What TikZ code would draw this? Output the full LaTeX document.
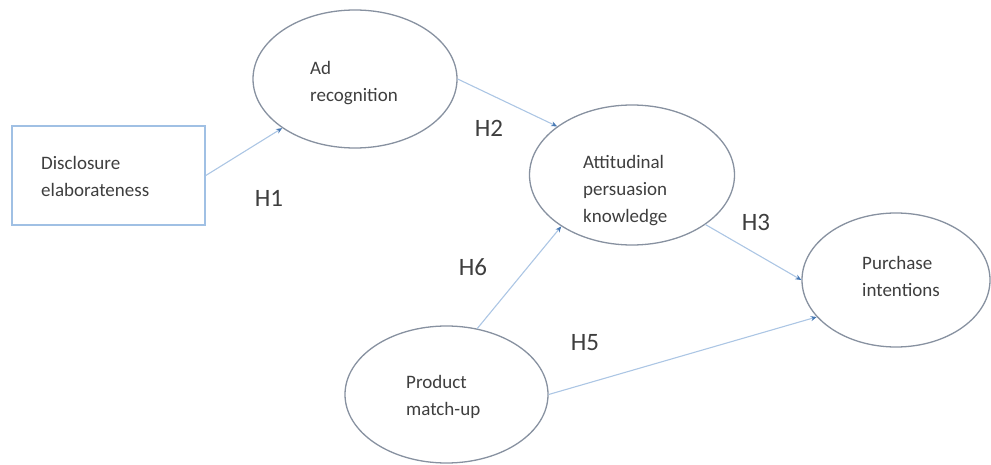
\documentclass[tikz,border=0pt]{standalone}
\usepackage{fontspec}
\setmainfont{Carlito}
\usetikzlibrary{shapes.geometric,arrows.meta}
\definecolor{ellgray}{RGB}{135,145,160}
\definecolor{boxblue}{RGB}{160,192,228}
\definecolor{linkblue}{RGB}{172,198,228}
\definecolor{tipblue}{RGB}{70,120,180}
\definecolor{txtgray}{RGB}{62,62,62}
\tikzset{
  construct/.style={ellipse,draw=ellgray,line width=1.3pt,inner sep=0pt},
  srcbox/.style={rectangle,draw=boxblue,line width=1.6pt,inner sep=0pt},
  lbl/.style={align=left,anchor=west,inner sep=0pt,text=txtgray,font=\fontsize{19}{27}\selectfont},
  hyp/.style={inner sep=0pt,text=txtgray,font=\fontsize{25}{30}\selectfont},
  link/.style={draw=linkblue,line width=1.1pt,-{Stealth[length=6pt,width=5pt,color=tipblue]}},
  linknotip/.style={draw=linkblue,line width=1.1pt}
}
\begin{document}
\begin{tikzpicture}[x=1pt,y=-1pt]
\useasboundingbox (0,0) rectangle (991,465);
% shapes
\node[construct,minimum width=204pt,minimum height=138pt] (ad) at (355,79) {};
\node[construct,minimum width=205pt,minimum height=140pt] (att) at (632,175) {};
\node[construct,minimum width=188pt,minimum height=134pt] (pur) at (896,280) {};
\node[construct,minimum width=203pt,minimum height=137pt] (prod) at (446.5,394.5) {};
\node[srcbox,minimum width=193pt,minimum height=99pt] (disc) at (108.5,175.5) {};
% texts
\node[lbl] (tad) at (310,83.5) {Ad\\recognition};
\node[lbl] (tdisc) at (41,176.5) {Disclosure\\elaborateness};
\node[lbl] (tatt) at (583,191) {Attitudinal\\persuasion\\knowledge};
\node[lbl] (tpur) at (862,276.5) {Purchase\\intentions};
\node[lbl] (tprod) at (406,396.5) {Product\\match-up};
% connectors
\draw[link] (disc.east) -- (ad.214);
\draw[link] (ad.east) -- (att.147);
\draw[link] (att.326) -- (pur.west);
\draw[link] (prod.65) -- (att.216);
\draw[link] (prod.east) -- (pur.205);
% hypothesis labels
\node[hyp] (h1) at (269,198) {H1};
\node[hyp] (h2) at (489,128) {H2};
\node[hyp] (h3) at (756,222) {H3};
\node[hyp] (h5) at (585,343) {H5};
\node[hyp] (h6) at (473,267) {H6};
\end{tikzpicture}
\end{document}
